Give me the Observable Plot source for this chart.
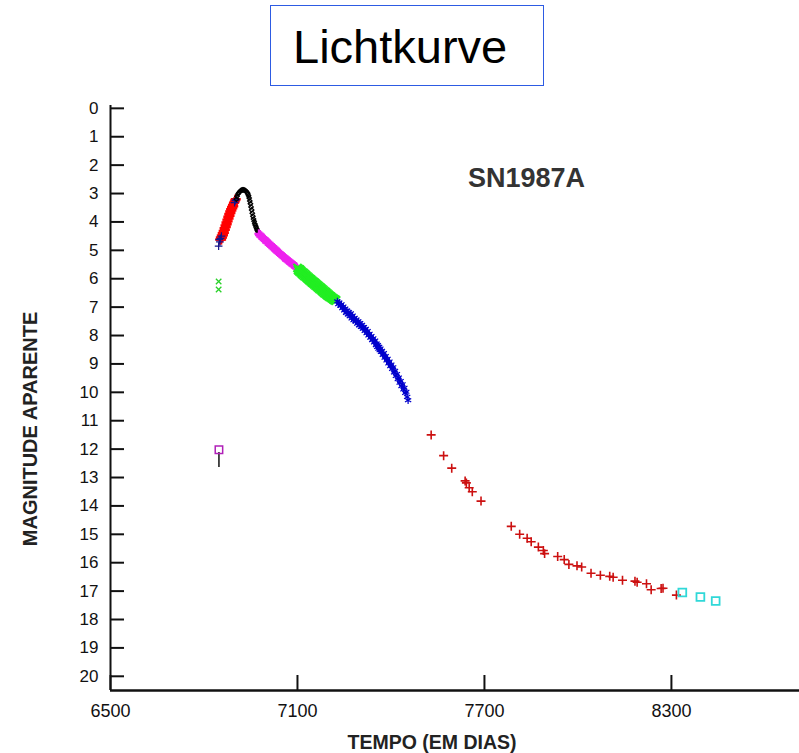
<!DOCTYPE html>
<html>
<head>
<meta charset="utf-8">
<script src="https://cdn.jsdelivr.net/npm/d3@7"></script>
<script src="https://cdn.jsdelivr.net/npm/@observablehq/plot@0.6"></script>
<style>
  html, body { margin: 0; padding: 0; background: #fff; }
  body { width: 799px; height: 753px; overflow: hidden; position: relative; font-family: "Liberation Sans", Arial, sans-serif; }
  #titlebox {
    position: absolute; left: 270px; top: 5px; width: 274px; height: 81px;
    box-sizing: border-box; border: 1.5px solid #2d5be3;
  }
  #title {
    position: absolute; left: 293px; top: 23px; font-size: 47px; line-height: 47px;
    color: #000; white-space: nowrap;
  }
  #chart { position: absolute; left: 0; top: 90px; }
</style>
</head>
<body>
<div id="titlebox"></div>
<div id="title">Lichtkurve</div>
<div id="chart"></div>
<script>
// ---- axes ----
const xTicks = [6500, 7100, 7700, 8300];
const yTicks = d3.range(0, 21);
const xDomain = [6500, 8711];
const yDomain = [-0.1, 20.5];

// ---- data: [day (JD-2440000), apparent magnitude] ----
const preDiscoveryGreen = [[6847, 6.1], [6847, 6.38]];
const limitSquare = [[6848, 12.02]];
const limitBar = [[6848, 12.12, 12.65]];

const earlyNavy = [[6847, 4.85], [6849, 4.62], [6851, 4.7], [6853, 4.58], [6856, 4.5], [6898, 3.32], [6901, 3.25], [6903, 3.2]];

const riseRed = [
  [6852, 4.62], [6854, 4.55], [6855, 4.62], [6857, 4.48], [6858, 4.55], [6860, 4.4], [6861, 4.47],
  [6863, 4.32], [6864, 4.38], [6866, 4.22], [6867, 4.28], [6869, 4.12], [6870, 4.18], [6872, 4.02],
  [6873, 4.08], [6875, 3.92], [6876, 3.98], [6878, 3.82], [6879, 3.88], [6881, 3.72], [6882, 3.78],
  [6884, 3.63], [6885, 3.69], [6887, 3.55], [6888, 3.6], [6890, 3.47], [6891, 3.52], [6893, 3.4],
  [6894, 3.45], [6896, 3.33], [6898, 3.3], [6900, 3.24], [6902, 3.2]
];

const peakBlack = [
  [6904, 3.2], [6906, 3.1], [6909, 3.02], [6912, 2.97], [6915, 2.93], [6918, 2.9], [6921, 2.88],
  [6924, 2.87], [6927, 2.87], [6930, 2.88], [6933, 2.9], [6936, 2.93], [6939, 2.97], [6941, 3.02],
  [6943, 3.08], [6945, 3.16], [6947, 3.26], [6949, 3.36], [6951, 3.47], [6953, 3.58], [6955, 3.69],
  [6957, 3.8], [6959, 3.9], [6961, 3.98], [6963, 4.06], [6965, 4.12], [6967, 4.18], [6969, 4.24],
  [6971, 4.29], [6973, 4.33], [6975, 4.37]
];

const declineMagenta = [
  [6976, 4.42], [6978, 4.47], [6980, 4.44], [6982, 4.52], [6984, 4.49], [6986, 4.55], [6988, 4.53],
  [6990, 4.6], [6992, 4.57], [6994, 4.63], [6996, 4.62], [6998, 4.68], [7000, 4.66], [7002, 4.72],
  [7004, 4.7], [7006, 4.75], [7008, 4.74], [7010, 4.8], [7012, 4.78], [7014, 4.84], [7016, 4.82],
  [7018, 4.88], [7020, 4.86], [7022, 4.92], [7024, 4.9], [7026, 4.96], [7028, 4.94], [7030, 5.0],
  [7032, 4.98], [7034, 5.04], [7036, 5.02], [7038, 5.08], [7040, 5.06], [7042, 5.11], [7044, 5.1],
  [7046, 5.16], [7048, 5.14], [7050, 5.19], [7052, 5.18], [7054, 5.24], [7056, 5.22], [7058, 5.27],
  [7060, 5.26], [7062, 5.31], [7064, 5.3], [7066, 5.35], [7068, 5.33], [7070, 5.38], [7072, 5.37],
  [7074, 5.42], [7076, 5.4], [7078, 5.45], [7080, 5.44], [7082, 5.49], [7084, 5.47], [7086, 5.52],
  [7088, 5.51], [7090, 5.55], [7092, 5.54], [7094, 5.58], [7096, 5.57], [7098, 5.61]
];

const tailGreen = [
  [7100, 5.62], [7102, 5.7], [7104, 5.66], [7106, 5.74], [7108, 5.68], [7110, 5.78], [7112, 5.72],
  [7114, 5.82], [7116, 5.77], [7118, 5.86], [7120, 5.8], [7122, 5.9], [7124, 5.84], [7126, 5.93],
  [7128, 5.88], [7130, 5.97], [7132, 5.92], [7134, 6.01], [7136, 5.96], [7138, 6.05], [7140, 6.0],
  [7142, 6.09], [7144, 6.03], [7146, 6.13], [7148, 6.07], [7150, 6.16], [7152, 6.11], [7154, 6.2],
  [7156, 6.14], [7158, 6.24], [7160, 6.18], [7162, 6.27], [7164, 6.22], [7166, 6.31], [7168, 6.26],
  [7170, 6.35], [7172, 6.3], [7174, 6.38], [7176, 6.33], [7178, 6.42], [7180, 6.37], [7182, 6.46],
  [7184, 6.41], [7186, 6.5], [7188, 6.45], [7190, 6.53], [7192, 6.48], [7194, 6.57], [7196, 6.52],
  [7198, 6.6], [7200, 6.56], [7202, 6.63], [7204, 6.6], [7206, 6.66], [7208, 6.63], [7210, 6.69],
  [7212, 6.67], [7214, 6.72], [7216, 6.7], [7218, 6.75], [7220, 6.73], [7222, 6.77], [7224, 6.76]
];

const dustBlue = [
  [7228, 6.8], [7231, 6.9], [7234, 6.84], [7238, 6.95], [7241, 6.9], [7244, 7.04], [7247, 6.98],
  [7250, 7.12], [7253, 7.05], [7256, 7.2], [7259, 7.12], [7262, 7.26], [7265, 7.18], [7268, 7.32],
  [7271, 7.22], [7274, 7.4], [7277, 7.3], [7280, 7.46], [7283, 7.38], [7286, 7.5], [7289, 7.44],
  [7292, 7.58], [7295, 7.5], [7298, 7.64], [7301, 7.56], [7304, 7.7], [7307, 7.62], [7310, 7.76],
  [7313, 7.7], [7316, 7.84], [7319, 7.76], [7322, 7.92], [7325, 7.84], [7328, 8.0], [7331, 7.94],
  [7334, 8.08], [7337, 8.02], [7340, 8.16], [7343, 8.1], [7346, 8.24], [7349, 8.18], [7352, 8.34],
  [7354, 8.28], [7356, 8.4], [7358, 8.34], [7360, 8.46], [7362, 8.4], [7364, 8.52], [7366, 8.46],
  [7368, 8.58], [7371, 8.54], [7374, 8.68], [7377, 8.62], [7380, 8.78], [7383, 8.72], [7386, 8.88],
  [7389, 8.82], [7392, 8.98], [7395, 8.92], [7398, 9.08], [7401, 9.02], [7404, 9.18], [7407, 9.12],
  [7410, 9.3], [7413, 9.24], [7416, 9.42], [7419, 9.36], [7422, 9.54], [7425, 9.48], [7428, 9.66],
  [7431, 9.6], [7434, 9.78], [7437, 9.72], [7440, 9.9], [7443, 9.84], [7446, 10.02], [7449, 9.98],
  [7452, 10.16], [7455, 10.28]
];

const lateRed = [
  [7529, 11.5], [7569, 12.23], [7595, 12.67], [7638, 13.12], [7642, 13.19], [7651, 13.36], [7661, 13.5],
  [7689, 13.83], [7786, 14.72], [7813, 15.0], [7837, 15.14], [7850, 15.26], [7873, 15.45], [7889, 15.57],
  [7893, 15.68], [7935, 15.78], [7956, 15.89], [7971, 16.06], [7997, 16.11], [8012, 16.15], [8042, 16.37],
  [8072, 16.44], [8102, 16.48], [8113, 16.51], [8143, 16.62], [8183, 16.65], [8190, 16.69], [8220, 16.74],
  [8235, 16.95], [8267, 16.91], [8273, 16.9], [8316, 17.14]
];

const lateCyan = [[8335, 17.05], [8393, 17.21], [8442, 17.35]];

const starLabel = [{day: 7835, mag: 2.46, text: "SN1987A"}];
const yTitle = ["MAGNITUDE APARENTE"];
const xTitle = ["TEMPO (EM DIAS)"];

const X = d => d[0], Y = d => d[1];
const W = 799, H = 663, ML = 110, MR = 0, MT = 15, MB = 63;

const chart = Plot.plot({
  width: W, height: H,
  marginLeft: ML, marginRight: MR, marginTop: MT, marginBottom: MB,
  x: {domain: xDomain},
  y: {domain: yDomain, reverse: true},
  style: {fontFamily: "'Liberation Sans', Arial, sans-serif", fontSize: "17px", color: "#111", background: "#fff"},
  marks: [
    Plot.axisY({ticks: yTicks, tickSize: 0, tickPadding: 12, label: null, tickFormat: d => String(d)}),
    Plot.axisX({ticks: xTicks, tickSize: 0, tickPadding: 14, label: null, tickFormat: d => String(d), fontSize: 18}),
    Plot.tickY(yTicks, {y: d => d, insetRight: W - ML - MR - 14, strokeWidth: 2, stroke: "#111"}),
    Plot.tickX(xTicks, {x: d => d, insetTop: H - MT - MB - 15, strokeWidth: 2, stroke: "#111"}),
    Plot.ruleX([xDomain[0]], {strokeWidth: 2, stroke: "#111"}),
    Plot.ruleY([yDomain[1]], {strokeWidth: 2.5, stroke: "#111"}),

    Plot.dot(preDiscoveryGreen, {x: X, y: Y, symbol: "times", r: 2.6, stroke: "#2ad12a", fill: "none", strokeWidth: 1.3}),
    Plot.ruleX(limitBar, {x: d => d[0], y1: d => d[1], y2: d => d[2], stroke: "#111", strokeWidth: 1.5}),
    Plot.dot(limitSquare, {x: X, y: Y, symbol: "square", r: 4.2, stroke: "#b020b8", fill: "none", strokeWidth: 1.5}),

    Plot.dot(riseRed, {x: X, y: Y, symbol: "plus", r: 3.3, stroke: "#ff0000", fill: "none", strokeWidth: 2.4}),
    Plot.dot(earlyNavy, {x: X, y: Y, symbol: "plus", r: 2.6, stroke: "#14148a", fill: "none", strokeWidth: 1.2}),
    Plot.dot(peakBlack, {x: X, y: Y, symbol: "diamond2", r: 2, stroke: "#000", fill: "none", strokeWidth: 1.3}),
    Plot.dot(declineMagenta, {x: X, y: Y, symbol: "plus", r: 3, stroke: "#ee22ee", fill: "none", strokeWidth: 2}),
    Plot.dot(tailGreen, {x: X, y: Y, symbol: "times", r: 3.8, stroke: "#22ee22", fill: "none", strokeWidth: 2}),
    Plot.dot(dustBlue, {x: X, y: Y, symbol: "asterisk", r: 3.4, stroke: "#0000cc", fill: "none", strokeWidth: 1.2}),
    Plot.dot(lateRed, {x: X, y: Y, symbol: "plus", r: 3, stroke: "#cc1010", fill: "none", strokeWidth: 1.6}),
    Plot.dot(lateCyan, {x: X, y: Y, symbol: "square", r: 4.4, stroke: "#30d8d8", fill: "none", strokeWidth: 1.8}),

    Plot.text(starLabel, {x: "day", y: "mag", text: "text", fontSize: 27, fontWeight: "bold", fill: "#333", textAnchor: "middle", lineAnchor: "middle"}),
    Plot.text(yTitle, {frameAnchor: "left", dx: -80, dy: 31, rotate: -90, text: d => d, textAnchor: "middle", fontSize: 20, fontWeight: "bold", fill: "#222", letterSpacing: 1.3, lineAnchor: "middle"}),
    Plot.text(xTitle, {frameAnchor: "bottom", dx: -23, dy: 52, text: d => d, textAnchor: "middle", fontSize: 19.5, fontWeight: "bold", fill: "#222", lineAnchor: "middle"})
  ]
});
document.getElementById("chart").appendChild(chart);
</script>
</body>
</html>
